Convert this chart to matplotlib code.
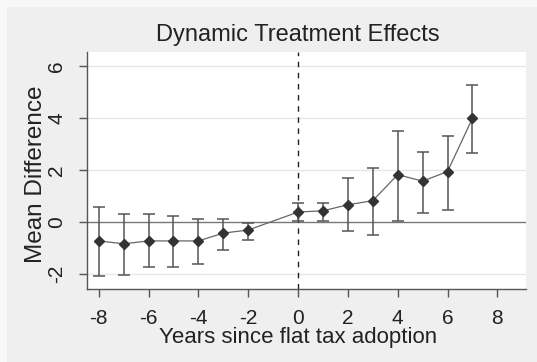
import matplotlib
matplotlib.use("Agg")
import matplotlib.pyplot as plt
from matplotlib.patches import Rectangle

# Event-study estimates by years relative to flat tax adoption
years = [-8, -7, -6, -5, -4, -3, -2, 0, 1, 2, 3, 4, 5, 6, 7]
estimate = [-0.73, -0.84, -0.73, -0.73, -0.73, -0.43, -0.31, 0.38, 0.43, 0.66, 0.82, 1.82, 1.57, 1.94, 3.99]
ci_low = [-2.08, -2.03, -1.74, -1.74, -1.61, -1.09, -0.69, 0.02, 0.04, -0.35, -0.52, 0.04, 0.35, 0.45, 2.65]
ci_high = [0.57, 0.29, 0.29, 0.22, 0.10, 0.10, -0.03, 0.74, 0.74, 1.68, 2.06, 3.51, 2.69, 3.32, 5.27]

x_ticks = [-8, -6, -4, -2, 0, 2, 4, 6, 8]
y_ticks = [-2, 0, 2, 4, 6]

plt.rcParams["font.family"] = ["Liberation Sans", "DejaVu Sans"]

W, H = 537, 362
fig = plt.figure(figsize=(W / 100, H / 100), dpi=100)
fig.patch.set_facecolor("#f8f8f8")
fig.patches.append(Rectangle((7 / W, 0), 1 - 7 / W, 1 - 7 / H, transform=fig.transFigure,
                             facecolor="#efefef", edgecolor="none", zorder=-5))

ax = fig.add_axes([87 / W, 1 - 289 / H, (526 - 87) / W, (289 - 52) / H])
ax.set_zorder(2)
ax.set_facecolor("white")

err_lo = [e - l for e, l in zip(estimate, ci_low)]
err_hi = [h - e for e, h in zip(estimate, ci_high)]

for y in y_ticks:
    if y != 0:
        ax.axhline(y, color="#e6e6e6", lw=1.0, zorder=1)
ax.axhline(0, color="#777777", lw=1.0, zorder=2)
ax.axvline(0, color="#222222", lw=1.0, ls=(0, (4, 4)), zorder=2)

ax.errorbar(years, estimate, yerr=[err_lo, err_hi], fmt="none", ecolor="#555555",
            elinewidth=1.1, capsize=4.5, capthick=1.1, zorder=3)
ax.plot(years, estimate, color="#666666", lw=0.9, zorder=4)
ax.plot(years, estimate, ls="none", marker="D", ms=5.5, color="#333333", zorder=5)

ax.set_xlim(-8.47, 9.15)
ax.set_ylim(-2.58, 6.54)
ax.set_xticks(x_ticks)
ax.set_yticks(y_ticks)
ax.set_xticklabels([str(v) for v in x_ticks], fontsize=15, color="#222222")
ax.set_yticklabels([str(v) for v in y_ticks], fontsize=15, color="#222222",
                   rotation=90, va="center")
ax.tick_params(axis="both", length=6, width=1, color="#555555", direction="out")
ax.tick_params(axis="x", pad=8.5)
ax.tick_params(axis="y", pad=9)

for s in ["top", "right"]:
    ax.spines[s].set_visible(False)
for s in ["left", "bottom"]:
    ax.spines[s].set_color("#555555")
    ax.spines[s].set_linewidth(1.0)

ax.set_xlabel("Years since flat tax adoption", fontsize=16, color="#222222",
              labelpad=-1, x=0.48, ha="center")
ax.set_ylabel("Mean Difference", fontsize=17.5, color="#222222",
              labelpad=0, y=0.485, ha="center")
fig.text(298 / W, 1 - 35 / H, "Dynamic Treatment Effects", fontsize=17,
         color="#222222", ha="center", va="center")

fig.savefig("out.png", dpi=100, facecolor=fig.get_facecolor())
